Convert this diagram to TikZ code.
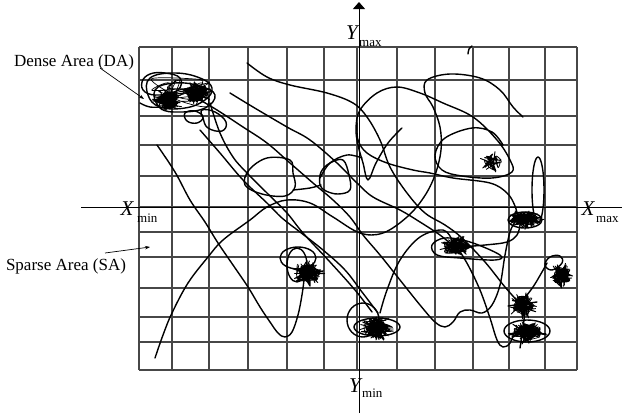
\documentclass[tikz,border=0pt]{standalone}
\usepackage{fontspec}
\setmainfont{Liberation Serif}
\usetikzlibrary{arrows.meta}
\newcommand{\myscrib}[6]{\pgfmathsetseed{#6}\draw[scribble] plot[smooth, samples=#5, domain=1:#5, variable=\t] ({#1+#2*(0.75+0.25*rand)*sin(\t*97+#6)*cos(\t*53+3*#6)},{#3+#4*(0.75+0.25*rand)*sin(\t*97+#6)*sin(\t*53+3*#6)});}
\newcommand{\myloose}[6]{\pgfmathsetseed{#6}\draw[scribble, line width=0.7pt] plot[smooth, samples=#5, domain=1:#5, variable=\t] ({#1+#2*rand},{#3+#4*rand});}
\begin{document}
\begin{tikzpicture}[x=1pt,y=-1pt,
  gridline/.style={black!72, line width=1.25pt},
  axisline/.style={black, line width=1pt},
  curve/.style={black, line width=1.4pt, line join=round, line cap=round},
  scribble/.style={black, line width=0.85pt, line join=round},
  lbl/.style={font=\fontsize{17}{20}\selectfont, inner sep=0, anchor=base},
  bigv/.style={font=\fontsize{21}{24}\selectfont\itshape, inner sep=0, anchor=base},
  subs/.style={font=\fontsize{13}{15}\selectfont, inner sep=0, anchor=base west},
  pointer/.style={black, line width=0.7pt, -{Stealth[length=5pt,width=3.5pt]}}
]
\useasboundingbox (0,0) rectangle (622,413);
% grid
\foreach \x in {139,172,209,248,287,324,357,397,435,473,509,545,577}
  \draw[gridline] (\x,47) -- (\x,370);
\foreach \y in {47,80,116,145,176,207,232,257,288,317,342,370}
  \draw[gridline] (139,\y) -- (577,\y);
% axes
\draw[axisline, -{Triangle[length=7pt,width=12pt]}] (359,413) -- (359,2);
\draw[axisline, -{Triangle[length=7pt,width=10pt]}] (81,207) -- (629,207);
% labels
\node[bigv] (ymaxY) at (352,39) {Y};
\node[subs] (ymaxS) at (359,46) {max};
\node[bigv] (xminX) at (127,215) {X};
\node[subs] (xminS) at (137,222) {min};
\node[bigv] (xmaxX) at (588,215) {X};
\node[subs] (xmaxS) at (596,222) {max};
\node[bigv] (yminY) at (355,392) {Y};
\node[subs] (yminS) at (362,397) {min};
\node[lbl] (da) at (74,66) {Dense Area (DA)};
\node[lbl] (sa) at (66,270) {Sparse Area (SA)};
\coordinate (daStart) at (100,68);
\coordinate (daTip) at (144,99);
\coordinate (saStart) at (105,253);
\coordinate (saTip) at (150,247);
\draw[pointer] (daStart) -- (daTip);
\draw[pointer] (saStart) -- (saTip);
% long trajectories
\draw[curve] plot[smooth, tension=0.6] coordinates {(247,63) (267,77) (290,85) (327,93) (353,103) (367,117) (380,140) (390,167) (407,193) (425,213) (445,225) (462,238) (485,262) (505,287) (522,306)};
\draw[curve] plot[smooth, tension=0.6] coordinates {(230,93) (253,107) (287,127) (310,140) (337,163) (357,183) (373,197) (400,210) (420,222) (440,235) (452,245)};
\draw[curve] plot[smooth, tension=0.6] coordinates {(200,100) (217,110) (243,127) (267,143) (290,163) (313,183) (333,200) (350,217) (363,235) (380,255) (400,280) (420,305) (435,322) (445,327) (453,322) (460,312) (470,310) (482,313) (492,305) (500,285) (505,255) (510,232) (515,222)};
\draw[curve] plot[smooth, tension=0.6] coordinates {(210,103) (220,133) (233,157) (247,173) (267,193) (287,213) (303,233) (330,262) (355,290) (372,312)};
\draw[curve] plot[smooth, tension=0.6] coordinates {(200,130) (220,153) (243,180) (267,203) (282,218) (300,232) (323,250) (345,270) (362,292) (378,313)};
\draw[curve] plot[smooth, tension=0.6] coordinates {(157,145) (175,172) (190,200) (205,222) (218,243) (233,265) (248,287) (260,307) (270,322) (278,333) (285,337) (292,332) (298,315) (302,295) (304,280)};
\draw[curve] plot[smooth, tension=0.6] coordinates {(155,358) (163,335) (172,313) (188,283) (208,257) (223,240) (250,220) (267,207) (287,200) (310,203) (333,217) (360,233) (383,233) (407,217) (424,197) (435,175) (441,150) (440,127) (433,107) (425,93) (427,80) (450,74) (480,78) (500,90) (513,107) (523,117)};
\draw[curve] plot[smooth, tension=0.6] coordinates {(402,128) (388,143) (376,163) (368,180) (363,163) (358,145) (356,128) (360,110) (377,93) (397,87) (420,93) (443,103) (473,117) (497,140) (510,160) (512,172) (492,178) (462,176) (442,170) (435,155) (445,138) (472,128) (492,132) (503,145)};
\draw[curve] plot[smooth, tension=0.6] coordinates {(357,123) (358,140) (367,153) (387,163) (413,170) (430,173) (453,178) (490,183) (507,193) (515,206) (518,218)};
\draw[curve] plot[smooth cycle, tension=0.6] coordinates {(290,160) (267,158) (249,170) (245,185) (262,194) (285,196) (295,187) (293,173)};
\draw[curve] plot[smooth cycle, tension=0.6] coordinates {(320,185) (321,172) (330,163) (343,160) (349,175) (350,190) (338,194) (326,191)};
\draw[curve] plot[smooth, tension=0.6] coordinates {(293,190) (310,188) (321,185)};
\draw[curve] plot[smooth, tension=0.6] coordinates {(320,178) (330,163) (347,155) (362,158)};
\draw[curve] plot[smooth, tension=0.6] coordinates {(380,313) (387,290) (400,260) (420,237) (443,230) (452,240)};
\draw[curve] plot[smooth, tension=0.6] coordinates {(460,247) (485,245) (507,242) (517,235) (520,225)};
\draw[curve] plot[smooth, tension=0.6] coordinates {(457,247) (468,265) (480,290) (490,318) (497,340) (503,347) (510,343) (515,330)};
\draw[curve] plot[smooth, tension=0.6] coordinates {(523,300) (533,287) (542,272) (547,263)};
\draw[curve] plot[smooth, tension=0.6] coordinates {(520,348) (522,335) (524,320) (525,310)};
\draw[curve] plot[smooth, tension=0.6] coordinates {(468,54) (469,49) (472,46)};
% dense area cluster
\draw[curve] plot[smooth cycle, tension=0.7] coordinates {(142,82) (150,74) (165,73) (180,78) (178,90) (160,95) (145,92)};
\draw[curve] plot[smooth cycle, tension=0.7] coordinates {(150,78) (175,73) (200,78) (212,88) (205,100) (185,108) (160,107) (148,95)};
\draw[curve] plot[smooth cycle, tension=0.7] coordinates {(155,90) (175,83) (200,86) (215,95) (205,108) (180,112) (160,108)};
\draw[curve] plot[smooth cycle, tension=0.7] coordinates {(185,113) (195,111) (203,117) (197,123) (187,121)};
\draw[curve] plot[smooth cycle, tension=0.7] coordinates {(202,110) (215,112) (226,122) (222,131) (208,128) (203,118)};
\draw[curve] plot[smooth, tension=0.6] coordinates {(140,103) (150,107) (167,107)};
\myscrib{168}{16}{100}{13}{110}{11}
\myscrib{196}{18}{93}{13}{110}{12}
\myloose{180}{30}{92}{15}{30}{13}
% cluster near (305,270)
\draw[curve] (298,258) ellipse [x radius=18pt, y radius=11pt];
\draw[curve] (297,265) ellipse [x radius=10pt, y radius=17pt];
\myscrib{308}{18}{273}{15}{90}{21}
\myloose{306}{12}{271}{10}{18}{31}
% cluster near (375,325)
\draw[curve] (363,320) ellipse [x radius=16pt, y radius=17pt];
\draw[curve] (377,327) ellipse [x radius=23pt, y radius=9pt];
\myscrib{377}{19}{328}{15}{100}{22}
\myloose{376}{13}{327}{10}{18}{32}
% cluster near (455,245)
\draw[curve] plot[smooth cycle, tension=0.6] coordinates {(432,245) (445,238) (470,242) (500,255) (495,260) (460,258) (437,255)};
\myscrib{457}{19}{246}{12}{90}{23}
\myloose{457}{13}{246}{8}{16}{33}
% small cluster near (492,162)
\myscrib{492}{15}{162}{11}{35}{24}
% cluster near (525,220)
\draw[curve] (538,190) ellipse [x radius=6pt, y radius=33pt];
\draw[curve] (525,220) ellipse [x radius=17pt, y radius=8pt];
\myscrib{525}{20}{219}{11}{90}{25}
\myloose{525}{13}{219}{7}{16}{35}
% cluster near (523,305)
\draw[curve] plot[smooth, tension=0.6] coordinates {(508,306) (522,304) (537,302)};
\myscrib{523}{16}{305}{15}{90}{26}
\myloose{523}{9}{305}{9}{14}{36}
% cluster near (527,332)
\draw[curve] (527,331) ellipse [x radius=23pt, y radius=11pt];
\myscrib{527}{22}{332}{13}{100}{27}
\myloose{527}{13}{332}{8}{18}{37}
% cluster near (560,275)
\draw[curve] plot[smooth cycle, tension=0.7] coordinates {(545,265) (550,257) (560,256) (562,263) (552,270)};
\myscrib{561}{13}{276}{15}{80}{28}
\myloose{561}{8}{276}{10}{14}{38}
\end{tikzpicture}
\end{document}
